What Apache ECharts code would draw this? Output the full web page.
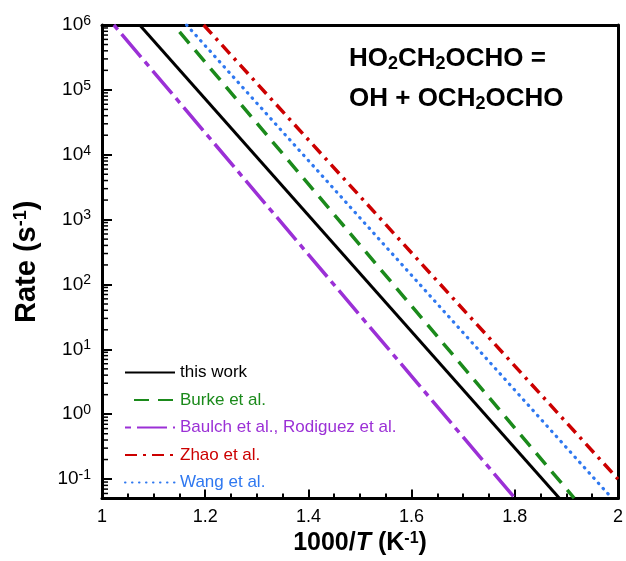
<!DOCTYPE html>
<html>
<head>
<meta charset="utf-8">
<script src="https://cdn.jsdelivr.net/npm/echarts@6/dist/echarts.min.js"></script>
<style>
  html, body { margin: 0; padding: 0; background: #fff; }
  #chart { width: 626px; height: 561px; }
</style>
</head>
<body>
<div id="chart"></div>
<script>
// 1000/T (K^-1) vs rate (s^-1), visible ends of each Arrhenius line
var thisWork = [[1.073, 1e6], [1.886, 0.051]];
var burke = [[1.139, 1e6], [1.915, 0.051]];
var baulch = [[1.023, 1e6], [1.800, 0.051]];
var zhao = [[1.197, 1e6], [2.0, 0.1]];
var wang = [[1.164, 1e6], [1.988, 0.051]];

var seriesNames = ["this work", "Burke et al.", "Baulch et al., Rodiguez et al.", "Zhao et al.", "Wang et al."];
var seriesColors = ["#000000", "#1b8a1b", "#9b30d6", "#cc0000", "#2f78f0"];

var FONT = "Liberation Sans, Arial, sans-serif";
var X_MIN = 1, X_MAX = 2, Y_MIN = 0.05, Y_MAX = 1e6;
var TICK = "#000";

// log minor ticks (2..9 x each decade) inside the y range
var yMinorTicks = [];
for (var k = -2; k <= 5; k++) {
  for (var m = 2; m <= 9; m++) {
    var v = m * Math.pow(10, k);
    if (v > Y_MIN && v < Y_MAX) yMinorTicks.push([X_MIN, v]);
  }
}

var chart = echarts.init(document.getElementById("chart"), null, { renderer: "canvas" });

function line(name, data, color, type, cap, width, offset) {
  return {
    name: name,
    type: "line",
    data: data,
    symbol: "none",
    clip: true,
    lineStyle: { color: color, width: width || 3, type: type, cap: cap || "butt", dashOffset: offset || 0 },
    itemStyle: { color: color },
    z: 3
  };
}

var boxAxis = {
  axisLine: { show: true, lineStyle: { color: "#000", width: 3 } },
  axisTick: { show: false },
  axisLabel: { show: false },
  splitLine: { show: false }
};

chart.setOption({
  animation: false,
  grid: { left: 102, right: 5, top: 25, bottom: 59 },
  legend: {
    orient: "vertical",
    left: 119,
    top: 359,
    itemWidth: 50,
    itemHeight: 12,
    itemGap: 10.5,
    itemStyle: { opacity: 0 },
    textStyle: { fontFamily: FONT, fontSize: 17 },
    data: seriesNames.map(function (n, i) {
      return { name: n, textStyle: { color: seriesColors[i] } };
    })
  },
  xAxis: [{
    type: "value",
    min: X_MIN,
    max: X_MAX,
    interval: 0.2,
    name: "1000/{it|T} (K{sup|-1})",
    nameLocation: "middle",
    nameGap: 30,
    nameTextStyle: {
      fontFamily: FONT,
      fontSize: 25,
      fontWeight: "bold",
      color: "#000",
      rich: {
        it: { fontFamily: FONT, fontSize: 25, fontWeight: "bold", fontStyle: "italic", color: "#000" },
        sup: { fontFamily: FONT, fontSize: 16, fontWeight: "bold", color: "#000", verticalAlign: "top", padding: [0, 0, 10, 0] }
      }
    },
    axisLine: { lineStyle: { color: "#000", width: 3 } },
    axisTick: { show: true, inside: true, length: 9, lineStyle: { color: TICK, width: 2, type: "solid" } },
    minorTick: { show: true, splitNumber: 4, length: 5, lineStyle: { color: TICK, width: 2, type: "solid" } },
    splitLine: { show: false },
    axisLabel: {
      margin: 9,
      fontFamily: FONT,
      fontSize: 18,
      color: "#000",
      formatter: function (v) { return String(Math.round(v * 10) / 10); }
    }
  }, Object.assign({ type: "value", min: X_MIN, max: X_MAX, position: "top" }, boxAxis)],
  yAxis: [{
    type: "log",
    logBase: 10,
    min: Y_MIN,
    max: Y_MAX,
    name: "Rate (s{sup|-1})",
    nameLocation: "middle",
    nameGap: 60,
    nameRotate: 90,
    nameTextStyle: {
      fontFamily: FONT,
      fontSize: 29,
      fontWeight: "bold",
      color: "#000",
      rich: {
        sup: { fontFamily: FONT, fontSize: 18, fontWeight: "bold", color: "#000", verticalAlign: "top", padding: [0, 0, 12, 0] }
      }
    },
    axisLine: { show: true, lineStyle: { color: "#000", width: 3 } },
    axisTick: { show: true, inside: true, length: 10, lineStyle: { color: TICK, width: 2, type: "solid" } },
    minorTick: { show: false },
    splitLine: { show: false },
    axisLabel: {
      margin: 11,
      showMinLabel: false,
      fontFamily: FONT,
      fontSize: 19,
      color: "#000",
      formatter: function (v) {
        var e = Math.round(Math.log10(v));
        return "10{sup|" + e + "}";
      },
      rich: {
        sup: { fontFamily: FONT, fontSize: 14, color: "#000", verticalAlign: "top", padding: [0, 0, 8, 0] }
      }
    }
  }, Object.assign({ type: "log", min: Y_MIN, max: Y_MAX, position: "right" }, boxAxis)],
  graphic: [
    {
      type: "text",
      left: 349,
      top: 46,
      style: {
        text: "HO{s|2}CH{s|2}OCHO =",
        font: "bold 26px " + FONT,
        fill: "#000",
        rich: {
          s: { font: "bold 18px " + FONT, fill: "#000", padding: [11, 0, 0, 0] }
        }
      }
    },
    {
      type: "text",
      left: 349,
      top: 86,
      style: {
        text: "OH + OCH{s|2}OCHO",
        font: "bold 26px " + FONT,
        fill: "#000",
        rich: {
          s: { font: "bold 18px " + FONT, fill: "#000", padding: [11, 0, 0, 0] }
        }
      }
    }
  ],
  series: [
    line(seriesNames[4], wang, seriesColors[4], [0.5, 6.5], "round", 3.2),
    line(seriesNames[3], zhao, seriesColors[3], [12, 6, 3, 6], "butt", 3.5),
    line(seriesNames[2], baulch, seriesColors[2], [30, 6, 6, 6], "butt", 3.5, 36),
    line(seriesNames[1], burke, seriesColors[1], [15, 9], "butt", 3.5, 15),
    line(seriesNames[0], thisWork, seriesColors[0], "solid"),
    {
      type: "custom",
      name: "yMinor",
      silent: true,
      data: yMinorTicks,
      renderItem: function (params, api) {
        var p = api.coord([api.value(0), api.value(1)]);
        return {
          type: "line",
          shape: { x1: p[0], y1: p[1], x2: p[0] + 6, y2: p[1] },
          style: { stroke: TICK, lineWidth: 1.5, lineDash: null }
        };
      },
      z: 4
    }
  ]
});
</script>
</body>
</html>
